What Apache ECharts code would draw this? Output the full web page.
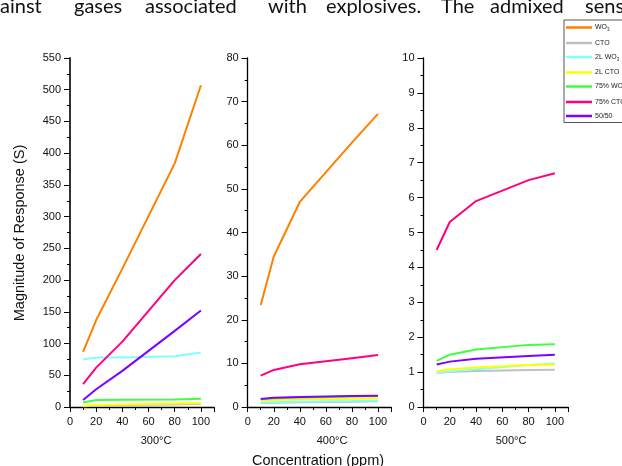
<!DOCTYPE html>
<html>
<head>
<meta charset="utf-8">
<script src="https://cdn.jsdelivr.net/npm/echarts@6/dist/echarts.min.js"></script>
<style>
html,body{margin:0;padding:0;background:#fff;}
#c{width:622px;height:466px;}
</style>
</head>
<body>
<div id="c"></div>
<script>
// ---- data ----
const concentrations = [10, 20, 40, 80, 100];
const seriesNames = ['WO3', 'CTO', '2L WO3', '2L CTO', '75% WO3', '75% CTO', '50/50'];
const seriesColors = ['#FF8000', '#C0C0C0', '#80FFFF', '#FFFF00', '#40FF40', '#FF0080', '#8000FF'];
const panelTitles = ['300°C', '400°C', '500°C'];
const xTicks = [0, 20, 40, 60, 80, 100];
const yMax = [550, 80, 10];
const yInterval = [50, 10, 1];

// 300 °C
const wo3_300   = [87, 137, 218, 384, 507];
const cto_300   = [1, 2, 3, 4, 5];
const wo3_2L_300 = [75, 78, 78, 80, 86];
const cto_2L_300 = [2, 3, 4, 5.5, 6.5];
const wo3_75_300 = [7, 11, 11.5, 12, 13];
const cto_75_300 = [36, 62, 103, 200, 241];
const mix_300   = [11, 28, 57, 120, 152];
// 400 °C
const wo3_400   = [23.4, 34.5, 47, 60.6, 67.2];
const cto_400   = [0.9, 1.0, 1.1, 1.2, 1.3];
const wo3_2L_400 = [0.95, 1.1, 1.2, 1.35, 1.45];
const cto_2L_400 = [1.45, 1.6, 1.75, 1.9, 2.0];
const wo3_75_400 = [1.75, 2.0, 2.2, 2.4, 2.5];
const cto_75_400 = [7.2, 8.5, 9.8, 11.2, 11.9];
const mix_400   = [1.85, 2.1, 2.3, 2.5, 2.6];
// 500 °C
const wo3_500   = [null, null, null, null, null];
const cto_500   = [0.98, 1.0, 1.03, 1.06, 1.07];
const wo3_2L_500 = [0.98, 1.02, 1.08, 1.2, 1.25];
const cto_2L_500 = [1.02, 1.08, 1.13, 1.2, 1.22];
const wo3_75_500 = [1.32, 1.5, 1.65, 1.78, 1.8];
const cto_75_500 = [4.5, 5.3, 5.9, 6.5, 6.7];
const mix_500   = [1.22, 1.3, 1.38, 1.46, 1.5];

const panels = [
  [wo3_300, cto_300, wo3_2L_300, cto_2L_300, wo3_75_300, cto_75_300, mix_300],
  [wo3_400, cto_400, wo3_2L_400, cto_2L_400, wo3_75_400, cto_75_400, mix_400],
  [wo3_500, cto_500, wo3_2L_500, cto_2L_500, wo3_75_500, cto_75_500, mix_500]
];

// ---- layout ----
const grids = [
  {left: 70, top: 58, width: 144, height: 349},
  {left: 247.7, top: 58, width: 143.3, height: 349},
  {left: 423.5, top: 58, width: 144.5, height: 349}
];
const titleX = [151, 327, 506];

const axisFont = {fontFamily: '"Liberation Sans", Arial, sans-serif', fontSize: 11, color: '#111'};

const xAxes = grids.map((g, i) => ({
  gridIndex: i, type: 'value', min: 0, max: 110, interval: 20,
  axisLine: {show: true, onZero: false, lineStyle: {color: '#000', width: 1.3}},
  axisTick: {show: true, length: 5, lineStyle: {color: '#000', width: 1}},
  minorTick: {show: true, splitNumber: 2, length: 3, lineStyle: {color: '#000', width: 1}},
  splitLine: {show: false},
  axisLabel: Object.assign({margin: 9, showMaxLabel: false,
    formatter: v => (xTicks.indexOf(v) >= 0 ? String(v) : '')}, axisFont)
}));
const yAxes = grids.map((g, i) => ({
  gridIndex: i, type: 'value', min: 0, max: yMax[i], interval: yInterval[i],
  axisLine: {show: true, onZero: false, lineStyle: {color: i === 0 ? '#333' : '#000', width: i === 0 ? 2 : 1.3}},
  axisTick: {show: true, length: 6, lineStyle: {color: '#000', width: 1}},
  minorTick: {show: true, splitNumber: 2, length: 3, lineStyle: {color: '#000', width: 1}},
  splitLine: {show: false},
  axisLabel: Object.assign({margin: 9}, axisFont)
}));

const series = [];
panels.forEach((panel, p) => {
  panel.forEach((vals, s) => {
    series.push({
      name: seriesNames[s], type: 'line', xAxisIndex: p, yAxisIndex: p,
      data: concentrations.map((c, k) => [c, vals[k]]),
      showSymbol: false, symbol: 'none', smooth: false,
      lineStyle: {width: 2, color: seriesColors[s]},
      itemStyle: {color: seriesColors[s]},
      animation: false, z: 2 + s
    });
  });
});

const titles = panelTitles.map((t, i) => ({
  text: t, left: titleX[i], top: 430, textAlign: 'center',
  textStyle: {fontFamily: '"Liberation Sans", Arial, sans-serif', fontSize: 11, fontWeight: 'normal', color: '#111'}
}));

const topWords = [['ainst', 0], ['gases', 74], ['associated', 145], ['with', 268], ['explosives.', 326], ['The', 441], ['admixed', 490], ['sensor', 585]];

const chart = echarts.init(document.getElementById('c'), null, {renderer: 'canvas'});
chart.setOption({
  animation: false,
  backgroundColor: '#fff',
  title: titles,
  grid: grids,
  xAxis: xAxes,
  yAxis: yAxes,
  legend: {
    orient: 'vertical', left: 564, top: 20,
    data: seriesNames,
    icon: 'rect', itemWidth: 26, itemHeight: 2.5, itemGap: 7,
    padding: [4, 60, 3, 2],
    borderColor: '#555', borderWidth: 1,
    backgroundColor: '#fff',
    selectedMode: false,
    textStyle: {fontFamily: '"Liberation Sans", Arial, sans-serif', fontSize: 7, color: '#222', padding: [0, 0, 0, -2],
      rich: {s: {fontSize: 4.5, padding: [5, 0, 0, 0], color: '#222'}}},
    formatter: n => n.replace('WO3', 'WO{s|3}')
  },
  series: series,
  graphic: [
    {type: 'text', left: 12, top: 'middle', rotation: Math.PI / 2,
      style: {text: 'Magnitude of Response (S)', font: '14.5px "Liberation Sans", Arial, sans-serif', fill: '#111'}},
    {type: 'text', x: 318, y: 453, style: {text: 'Concentration (ppm)', font: '14.5px "Liberation Sans", Arial, sans-serif', fill: '#111', textAlign: 'center'}}
  ].concat(topWords.map(w => ({
    type: 'text', x: w[1], y: 17,
    style: {text: w[0], font: '20px Lato, "Open Sans", sans-serif', fill: '#111', textAlign: 'left', textVerticalAlign: 'bottom'}
  })))
});
</script>
</body>
</html>
